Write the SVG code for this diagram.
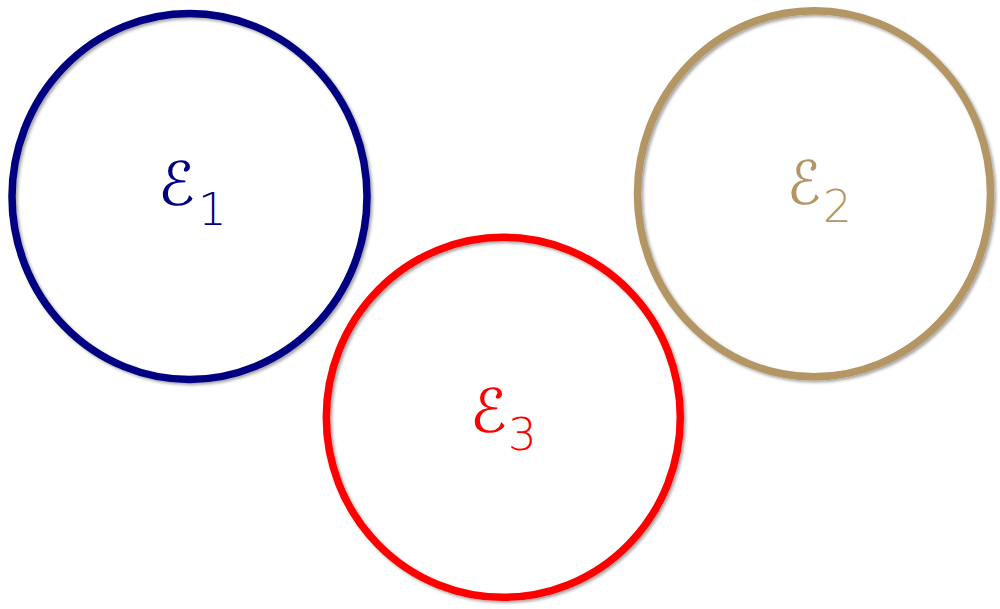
<svg xmlns="http://www.w3.org/2000/svg" width="1000" height="609" viewBox="0 0 1000 609">
<defs>
<filter id="sh" x="-10%" y="-10%" width="120%" height="120%">
<feGaussianBlur in="SourceAlpha" stdDeviation="1.5"/>
<feOffset dx="2" dy="2" result="b"/>
<feFlood flood-color="#000" flood-opacity="0.35"/>
<feComposite in2="b" operator="in"/>
<feMerge><feMergeNode/><feMergeNode in="SourceGraphic"/></feMerge>
</filter>
</defs>
<style>
.c{fill:none;stroke-width:7.5;filter:url(#sh)}
.e{font-family:"DejaVu Sans",sans-serif;font-size:60px}
.s{font-family:"DejaVu Sans",sans-serif;font-size:45px;font-weight:200}
</style>
<rect width="1000" height="609" fill="#fff"/>
<g id="e1">
<ellipse class="c" cx="189.5" cy="196.5" rx="177.5" ry="183" stroke="#000080"/>
<text class="e" x="158" y="205" fill="#000080" textLength="37" lengthAdjust="spacingAndGlyphs">ℰ</text>
<text class="s" x="198" y="225" fill="#000080">1</text>
</g>
<g id="e2">
<ellipse class="c" cx="814" cy="193.7" rx="176.5" ry="183" stroke="#b39664"/>
<text class="e" x="787" y="204" fill="#b39664" textLength="34" lengthAdjust="spacingAndGlyphs">ℰ</text>
<text class="s" x="823" y="222" fill="#b39664">2</text>
</g>
<g id="e3">
<ellipse class="c" cx="503.3" cy="417.3" rx="177" ry="180" stroke="#ff0000"/>
<text class="e" x="470" y="432" fill="#ff0000" textLength="37" lengthAdjust="spacingAndGlyphs">ℰ</text>
<text class="s" x="508" y="450" fill="#ff0000">3</text>
</g>
<g id="connectors"/>
</svg>
